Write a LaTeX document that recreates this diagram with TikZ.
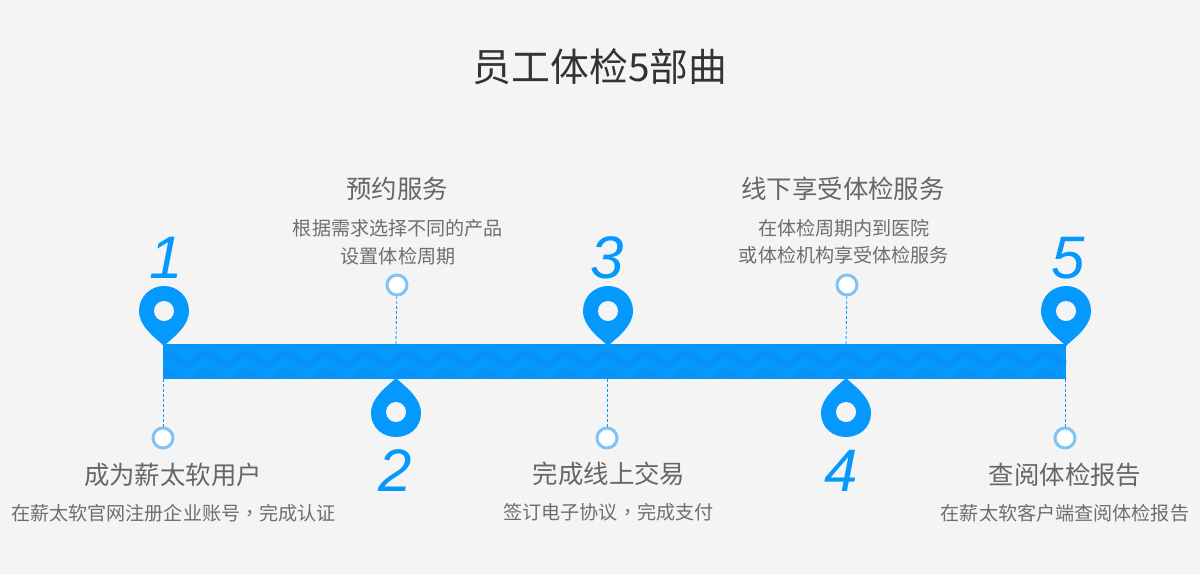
\documentclass[tikz,border=0pt]{standalone}
\usepackage{fontspec}
\setmainfont{Noto Sans CJK SC}
\newfontfamily\numfont{Liberation Sans}
\newfontfamily\tcfont{Noto Sans CJK TC}
\definecolor{bg}{HTML}{F4F4F4}
\definecolor{pinblue}{HTML}{0599FE}
\definecolor{wavedark}{HTML}{0A91F5}
\definecolor{ring}{HTML}{7FC4F5}
\definecolor{ttl}{HTML}{333333}
\definecolor{hd}{HTML}{666666}
\definecolor{ds}{HTML}{6E6E6E}
\newcommand{\zcomma}{{\tcfont ，}}
\tikzset{
 x=1pt,y=-1pt,
 titletext/.style={text=ttl,font=\fontsize{38.8}{38.8}\selectfont,inner sep=0,anchor=center},
 headtext/.style={text=hd,font=\fontsize{25.4}{25.4}\selectfont,inner sep=0,anchor=center},
 desctext/.style={text=ds,font=\fontsize{19.1}{19.1}\selectfont,inner sep=0,anchor=center},
 numtext/.style={text=pinblue,font=\numfont\itshape\fontsize{60}{60}\selectfont,inner sep=0,anchor=center},
 ringdot/.style={circle,draw=ring,line width=3pt,fill=white,minimum size=20pt,inner sep=0},
 stem/.style={draw=pinblue,line width=0.8pt,dash pattern=on 3pt off 2pt},
 pinshape/.style={fill=pinblue,draw=none},
 holedot/.style={fill=bg,draw=none}
}
\newcommand{\pinup}[2]{% tip on the bar, head above
 \fill[pinshape] (#1,#2) .. controls (#1-7,#2-7) and (#1-25,#2-19) .. (#1-25,#2-35)
   .. controls (#1-25,#2-50) and (#1-13,#2-60) .. (#1,#2-60)
   .. controls (#1+13,#2-60) and (#1+25,#2-50) .. (#1+25,#2-35)
   .. controls (#1+25,#2-19) and (#1+7,#2-7) .. (#1,#2) -- cycle;
 \fill[holedot] (#1,#2-35) circle[radius=10];}
\newcommand{\pindown}[2]{% tip on the bar, head below
 \fill[pinshape] (#1,#2) .. controls (#1+7,#2+7) and (#1+25,#2+19) .. (#1+25,#2+35)
   .. controls (#1+25,#2+50) and (#1+13,#2+59) .. (#1,#2+59)
   .. controls (#1-13,#2+59) and (#1-25,#2+50) .. (#1-25,#2+35)
   .. controls (#1-25,#2+19) and (#1-7,#2+7) .. (#1,#2) -- cycle;
 \fill[holedot] (#1,#2+34) circle[radius=10];}
\begin{document}
\begin{tikzpicture}
\fill[bg] (0,0) rectangle (1200,574);
\useasboundingbox (0,0) rectangle (1200,574);
\node[titletext] (title) at (600,67) {员工体检5部曲};

% bar
\fill[pinblue] (163,344) rectangle (1066,379);
\begin{scope}
 \clip (163,344) rectangle (1066,379);
 \foreach \yy in {336,354,372}{
  \foreach \xx in {146,186,...,1066}{
   \draw[wavedark,line width=7pt,line cap=butt] (\xx,\yy+10) .. controls (\xx+10,\yy+10) and (\xx+10,\yy) .. (\xx+20,\yy)
     .. controls (\xx+30,\yy) and (\xx+30,\yy+10) .. (\xx+40,\yy+10);
  }
 }
\end{scope}
\fill[bg] (160,379) rectangle (1070,382);

% stems and dots
\node[ringdot] (d1) at (163,438) {};
\node[ringdot] (d2) at (397,285) {};
\node[ringdot] (d3) at (607,438) {};
\node[ringdot] (d4) at (847,285) {};
\node[ringdot] (d5) at (1065,438) {};
\coordinate (b1) at (163,379);
\coordinate (b2) at (396,344);
\coordinate (b3) at (607,379);
\coordinate (b4) at (846,344);
\coordinate (b5) at (1065,379);
\draw[stem] (b1) -- (d1);
\draw[stem] (b2) -- (d2);
\draw[stem] (b3) -- (d3);
\draw[stem] (b4) -- (d4);
\draw[stem] (b5) -- (d5);

% pins
\pinup{164}{346}
\pindown{396}{378}
\pinup{608}{346}
\pindown{846}{378}
\pinup{1066}{346}

% numbers
\node[numtext] (n1) at (166,258) {1};
\node[numtext] (n2) at (395.5,471) {2};
\node[numtext] (n3) at (607.5,258) {3};
\node[numtext] (n4) at (841.5,471) {4};
\node[numtext] (n5) at (1068,258) {5};

% texts
\node[headtext] (h1) at (173,475) {成为薪太软用户};
\node[desctext] (t1) at (173.5,513) {在薪太软官网注册企业账号\zcomma 完成认证};
\node[headtext] (h2) at (397,189) {预约服务};
\node[desctext] (t2a) at (398,228) {根据需求选择不同的产品};
\node[desctext] (t2b) at (398,256) {设置体检周期};
\node[headtext] (h3) at (609,474) {完成线上交易};
\node[desctext] (t3) at (608.5,512) {签订电子协议\zcomma 完成支付};
\node[headtext] (h4) at (843,189) {线下享受体检服务};
\node[desctext] (t4a) at (844,228) {在体检周期内到医院};
\node[desctext] (t4b) at (844,255) {或体检机构享受体检服务};
\node[headtext] (h5) at (1065,475) {查阅体检报告};
\node[desctext] (t5) at (1065,513) {在薪太软客户端查阅体检报告};
\end{tikzpicture}
\end{document}
